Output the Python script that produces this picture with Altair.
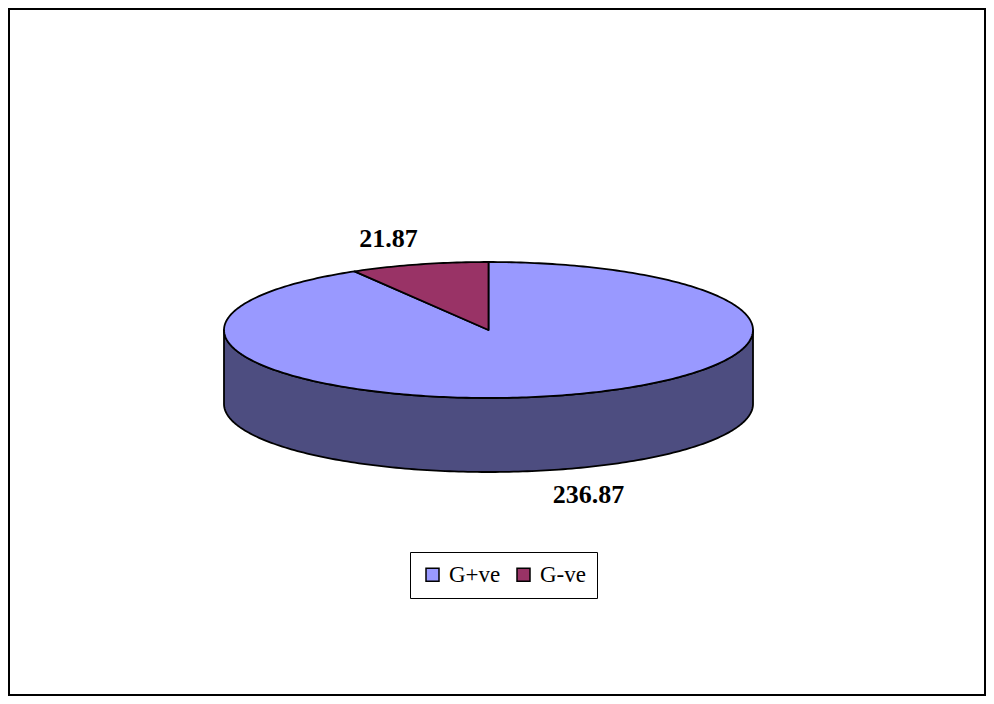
import altair as alt
import numpy as np
import pandas as pd

# ---- data ----
categories = ["G+ve", "G-ve"]
values = [236.87, 21.87]
value_labels = ["236.87", "21.87"]
top_colors = ["#9999FF", "#993366"]
side_colors = ["#4D4D80", "#4D1A33"]

# ---- 3D pie style parameters (ellipse in units of the radius) ----
TILT = 68 / 264.5      # vertical squash of the top face
DEPTH = 74 / 264.5     # thickness of the pie
LABEL_R = 1.44

W, H = 978, 688

total = float(sum(values))
fracs = np.array(values) / total
ends = np.cumsum(fracs) * 360.0
starts = ends - fracs * 360.0


def pt(theta_deg, drop=0.0):
    t = np.radians(theta_deg)
    return [float(np.sin(t)), float(TILT * np.cos(t) - drop)]


features = []
# visible sides (front half: 90..270 deg clockwise from top)
for cat, s, e in zip(categories, starts, ends):
    lo, hi = max(s, 90.0), min(e, 270.0)
    if hi <= lo:
        continue
    n = max(int(hi - lo) + 2, 2)
    arc = np.linspace(lo, hi, n)
    ring = [pt(t) for t in arc] + [pt(t, DEPTH) for t in arc[::-1]]
    ring.append(ring[0])
    features.append({"type": "Feature", "properties": {"kind": cat + " side"},
                     "geometry": {"type": "Polygon", "coordinates": [ring]}})
# top faces
for cat, s, e in zip(categories, starts, ends):
    n = max(int(e - s) + 2, 2)
    ring = [[0.0, 0.0]] + [pt(t) for t in np.linspace(s, e, n)] + [[0.0, 0.0]]
    features.append({"type": "Feature", "properties": {"kind": cat},
                     "geometry": {"type": "Polygon", "coordinates": [ring]}})

# label positions from slice mid-angles
lab_rows = []
for cat, lab, s, e in zip(categories, value_labels, starts, ends):
    mid = np.radians((s + e) / 2.0)
    x = LABEL_R * np.sin(mid)
    y = LABEL_R * TILT * np.cos(mid)
    if np.cos(mid) < 0:
        y -= DEPTH * 0.95
    else:
        y -= 0.012
    lab_rows.append({"lon": float(x), "lat": float(y), "label": lab})
labels_df = pd.DataFrame(lab_rows)

proj = dict(type="identity", reflectY=True, scale=264.5, translate=[480.5, 322])

domain = categories + [c + " side" for c in categories]
rng = top_colors + side_colors

border = alt.Chart(pd.DataFrame({"b": [0]})).mark_rect(
    fill=None, stroke="black", strokeWidth=2
).encode(
    x=alt.value(1), x2=alt.value(W - 1), y=alt.value(1), y2=alt.value(H - 1)
)

pie = alt.Chart(alt.Data(values=features)).mark_geoshape(
    stroke="black", strokeWidth=1.8, opacity=1, strokeJoin="round"
).encode(
    color=alt.Color(
        "properties.kind:N",
        scale=alt.Scale(domain=domain, range=rng),
        legend=alt.Legend(
            values=categories, title=None, orient="none", legendX=402, legendY=544,
            direction="horizontal", symbolType="square", symbolSize=169,
            symbolStrokeColor="black", symbolStrokeWidth=1.5, symbolOpacity=1,
            labelFont="Liberation Serif", labelFontSize=23, labelColor="black",
            labelOffset=5, columnPadding=11, padding=11,
            strokeColor="black", cornerRadius=0,
        ),
    )
).project(**proj)

text = alt.Chart(labels_df).mark_text(
    font="Liberation Serif", fontSize=26, fontWeight="bold", color="black",
    align="center", baseline="middle"
).encode(
    longitude="lon:Q", latitude="lat:Q", text="label:N"
).project(**proj)

chart = alt.layer(border, pie, text).properties(
    width=W, height=H, padding=0, autosize=alt.AutoSizeParams(type="none")
).configure_view(stroke=None)

chart.save("out.html", embed_options={"renderer": "svg", "actions": False})
